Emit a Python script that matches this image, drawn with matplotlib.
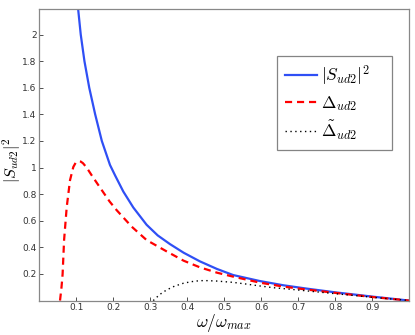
import matplotlib
matplotlib.use("Agg")
import matplotlib.pyplot as plt

plt.rcParams['mathtext.fontset'] = 'cm'

# |S_ud2|^2
s_x = [0.105, 0.112, 0.122, 0.135, 0.151, 0.169, 0.191, 0.205, 0.227, 0.254, 0.29,
       0.32, 0.353, 0.39, 0.434, 0.48, 0.524, 0.596, 0.66, 0.723, 0.8, 0.9, 1.0]
s_y = [2.19, 2.0, 1.8, 1.6, 1.4, 1.2, 1.02, 0.94, 0.82, 0.7, 0.57,
       0.49, 0.425, 0.36, 0.295, 0.238, 0.192, 0.147, 0.115, 0.09, 0.062, 0.03, 0.0]

# Delta_ud2
d_x = [0.056, 0.06, 0.063, 0.067, 0.074, 0.083, 0.092, 0.098, 0.105, 0.112, 0.118,
       0.128, 0.142, 0.164, 0.19, 0.209, 0.25, 0.29, 0.344, 0.39, 0.434, 0.48, 0.524,
       0.596, 0.66, 0.723, 0.8, 0.9, 1.0]
d_y = [0.0, 0.1, 0.2, 0.455, 0.70, 0.905, 1.005, 1.035, 1.048, 1.045, 1.033,
       1.0, 0.94, 0.85, 0.745, 0.68, 0.555, 0.455, 0.37, 0.3, 0.25, 0.21, 0.18,
       0.135, 0.105, 0.083, 0.058, 0.027, 0.0]

# Delta tilde_ud2
t_x = [0.308, 0.325, 0.344, 0.365, 0.389, 0.41, 0.434, 0.455, 0.479, 0.524, 0.56,
       0.596, 0.632, 0.68, 0.723, 0.8, 0.9, 1.0]
t_y = [0.0, 0.045, 0.08, 0.108, 0.13, 0.142, 0.15, 0.15, 0.147, 0.137, 0.124,
       0.11, 0.097, 0.085, 0.073, 0.052, 0.025, 0.0]

x_ticks = [0.1, 0.2, 0.3, 0.4, 0.5, 0.6, 0.7, 0.8, 0.9]
y_ticks = [0.2, 0.4, 0.6, 0.8, 1.0, 1.2, 1.4, 1.6, 1.8, 2.0]

fig = plt.figure(figsize=(4.15, 3.35), dpi=100)
ax = fig.add_axes([0.0947, 0.1027, 0.8916, 0.8696])

ax.plot(s_x, s_y, color='#2f4ff5', lw=1.6, label=r'$|S_{ud2}|^2$')
ax.plot(d_x, d_y, color='#ff0000', lw=1.6, ls=(0, (3.2, 2.2)), label=r'$\Delta_{ud2}$')
ax.plot(t_x, t_y, color='black', lw=1.0, ls=(0, (1, 2.5)), label=r'$\tilde{\Delta}_{ud2}$')

ax.set_xlim(0, 1)
ax.set_ylim(0, 2.19)
ax.set_xticks(x_ticks)
ax.set_yticks(y_ticks)
ax.set_xticklabels([f'{v:g}' for v in x_ticks])
ax.set_yticklabels([f'{v:g}' for v in y_ticks])
ax.tick_params(direction='in', length=3, width=0.6, labelsize=6.5, colors='#333333',
               top=False, right=False, pad=2)
for sp in ax.spines.values():
    sp.set_color('#888888')
    sp.set_linewidth(0.9)

ax.set_xlabel(r'$\omega/\omega_{max}$', fontsize=12.5, labelpad=0)
ax.set_ylabel(r'$|S_{ud2}|^2$', fontsize=11.5)
ax.yaxis.set_label_coords(-0.043, 0.48)

leg = ax.legend(loc='upper left', bbox_to_anchor=(0.642, 0.534, 0.31, 0.307),
                mode='expand', fontsize=12.5,
                frameon=True, fancybox=False, handlelength=1.85, handletextpad=0.25,
                borderpad=0.45, labelspacing=0.35, borderaxespad=0)
leg.get_frame().set_edgecolor('#666666')
leg.get_frame().set_linewidth(0.9)

fig.savefig('out.png', dpi=100)
